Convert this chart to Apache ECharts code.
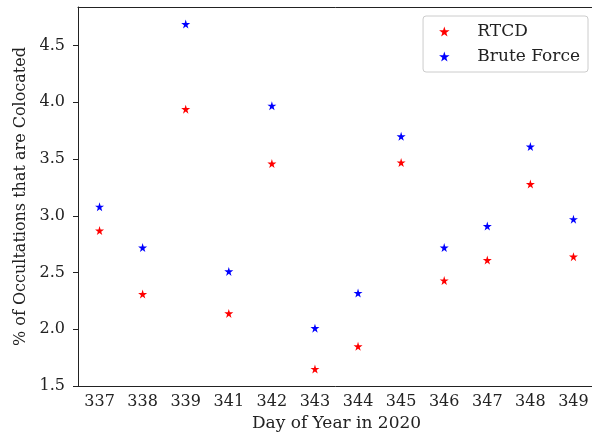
<!DOCTYPE html>
<html>
<head>
<meta charset="utf-8">
<script src="https://cdn.jsdelivr.net/npm/echarts@6/dist/echarts.min.js"></script>
<style>
  html, body { margin: 0; padding: 0; background: #fff; }
  #chart { width: 592px; height: 432px; }
</style>
</head>
<body>
<div id="chart"></div>
<script>
const days = ['337', '338', '339', '341', '342', '343', '344', '345', '346', '347', '348', '349']
const rtcd = [2.87, 2.31, 3.94, 2.14, 3.46, 1.65, 1.85, 3.47, 2.43, 2.61, 3.28, 2.64]
const bruteForce = [3.08, 2.72, 4.69, 2.51, 3.97, 2.01, 2.32, 3.70, 2.72, 2.91, 3.61, 2.97]
const yTicks = [1.5, 2.0, 2.5, 3.0, 3.5, 4.0, 4.5]

const star = 'path://M50,0 L61,35 L98,35 L68,57 L79,91 L50,70 L21,91 L32,57 L2,35 L39,35 Z'
const font = '"DejaVu Serif", serif'
const ink = '#222'

const chart = echarts.init(document.getElementById('chart'), null, { renderer: 'canvas' })

chart.setOption({
  backgroundColor: '#fff',
  animation: false,
  grid: {
    left: 78, width: 517, top: 7, bottom: 46,
    outerBoundsMode: 'none',
    containLabel: false,
  },
  legend: {
    orient: 'vertical',
    right: 4,
    top: 16,
    padding: [7, 8, 7, 16],
    itemWidth: 14,
    itemHeight: 10,
    itemGap: 8,
    borderColor: '#ccc',
    borderWidth: 1,
    borderRadius: 3,
    textStyle: { fontFamily: font, fontSize: 17, color: ink, padding: [0, 0, 0, 21] },
    data: ['RTCD', 'Brute Force'],
  },
  xAxis: [
    {
      type: 'category',
      data: days,
      boundaryGap: true,
      name: 'Day of Year in 2020',
      nameLocation: 'middle',
      nameGap: 28,
      nameTextStyle: { fontFamily: font, fontSize: 17, color: ink },
      axisLine: { lineStyle: { color: ink, width: 1 } },
      axisTick: { alignWithLabel: true, length: 5, lineStyle: { color: ink } },
      axisLabel: { fontFamily: font, fontSize: 16, color: ink, margin: 8 },
      splitLine: { show: false },
    },
    {
      // top spine only
      type: 'category',
      data: days,
      position: 'top',
      axisLine: { lineStyle: { color: ink, width: 1 } },
      axisTick: { show: false },
      axisLabel: { show: false },
      splitLine: { show: false },
    },
  ],
  yAxis: {
    type: 'value',
    min: 1.5,
    max: 4.84,
    name: '% of Occultations that are Colocated',
    nameLocation: 'middle',
    nameGap: 44,
    nameTextStyle: { fontFamily: font, fontSize: 16, color: ink },
    axisLine: { show: true, lineStyle: { color: ink, width: 1 } },
    axisTick: { show: true, length: 5, lineStyle: { color: ink }, customValues: yTicks },
    axisLabel: {
      fontFamily: font, fontSize: 16, color: ink, margin: 13,
      customValues: yTicks,
      formatter: (v) => v.toFixed(1),
    },
    splitLine: { show: false },
  },
  series: [
    {
      name: 'RTCD',
      type: 'scatter',
      data: rtcd,
      symbol: star,
      symbolSize: 9,
      itemStyle: { color: '#ff0000', opacity: 1 },
    },
    {
      name: 'Brute Force',
      type: 'scatter',
      data: bruteForce,
      symbol: star,
      symbolSize: 9,
      itemStyle: { color: '#0000ff', opacity: 1 },
    },
  ],
})
</script>
</body>
</html>
